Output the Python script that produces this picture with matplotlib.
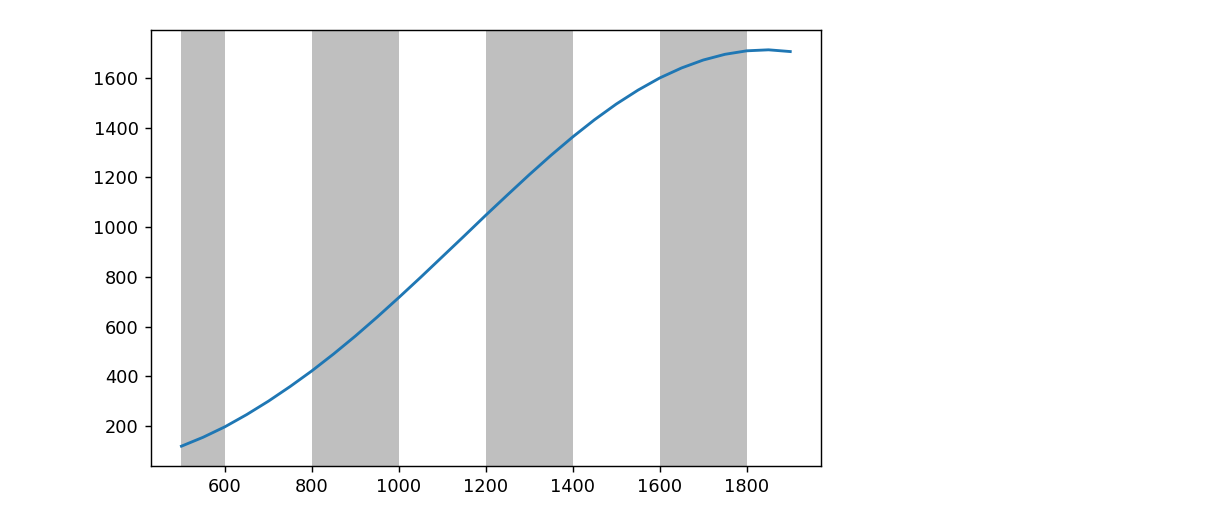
import matplotlib
matplotlib.use("Agg")
import matplotlib.pyplot as plt

# Shaded intervals (start, end)
span_starts = [500, 800, 1200, 1600]
span_ends = [600, 1000, 1400, 1800]

# Curve values
x_vals = [500, 550, 600, 650, 700, 750, 800, 850, 900, 950, 1000, 1050, 1100,
          1150, 1200, 1250, 1300, 1350, 1400, 1450, 1500, 1550, 1600, 1650,
          1700, 1750, 1800, 1850, 1900]
y_vals = [119, 155, 197, 246, 300, 359, 422, 490, 562, 638, 717, 798, 881,
          964, 1048, 1130, 1211, 1289, 1363, 1432, 1495, 1551, 1600, 1640,
          1672, 1695, 1709, 1713, 1706]

dpi = 128
fig = plt.figure(figsize=(1226 / dpi, 526 / dpi), dpi=dpi)
ax = fig.add_axes([151 / 1226, 1 - 466 / 526, (820.7 - 151) / 1226, (466 - 30) / 526])

for s, e in zip(span_starts, span_ends):
    ax.axvspan(s, e, facecolor="gray", alpha=0.5, linewidth=0)

ax.plot(x_vals, y_vals, color="#1f77b4", linewidth=1.6)

fig.savefig("out.png", dpi=dpi)
